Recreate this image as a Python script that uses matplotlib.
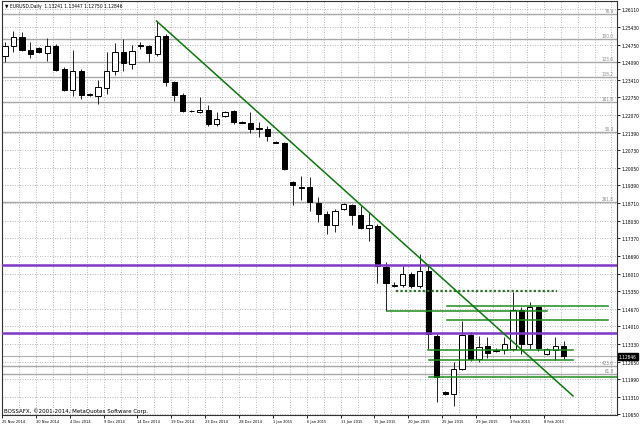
import matplotlib
matplotlib.use("Agg")
import matplotlib.pyplot as plt
from matplotlib.transforms import blended_transform_factory

plt.rcParams['font.family'] = ['Liberation Sans Narrow', 'DejaVu Sans']
plt.rcParams['font.stretch'] = 'condensed'

# EURUSD daily candles, 25 Nov 2014 .. 10 Feb 2015 (broker with Sunday bars)
opens = [1.2431, 1.2470, 1.2504, 1.2454, 1.2462, 1.2443, 1.2470, 1.2382, 1.2302, 1.2374,
         1.2285, 1.2279, 1.2309, 1.2374, 1.2447, 1.2401, 1.2474, 1.2470, 1.2439, 1.2508,
         1.2332, 1.2283, 1.2222, 1.2218, 1.2225, 1.2172, 1.2203, 1.2222, 1.2180, 1.2176,
         1.2157, 1.2153, 1.2105, 1.2099, 1.1951, 1.1931, 1.1931, 1.1870, 1.1828, 1.1786,
         1.1848, 1.1863, 1.1825, 1.1775, 1.1783, 1.1626, 1.1554, 1.1557, 1.1599, 1.1554,
         1.1611, 1.1363, 1.1149, 1.1141, 1.1237, 1.1367, 1.1275, 1.1325, 1.1311, 1.1309,
         1.1313, 1.1462, 1.1332, 1.1473, 1.1294, 1.1309, 1.13241]
highs = [1.2485, 1.2527, 1.2523, 1.2485, 1.2466, 1.2500, 1.2477, 1.2390, 1.2454, 1.2382,
         1.2290, 1.2340, 1.2447, 1.2481, 1.2496, 1.2474, 1.2485, 1.2474, 1.2565, 1.2516,
         1.2336, 1.2290, 1.2225, 1.2275, 1.2245, 1.2218, 1.2222, 1.2225, 1.2182, 1.2218,
         1.2180, 1.2164, 1.2107, 1.2103, 1.1954, 1.1973, 1.1970, 1.1893, 1.1840, 1.1848,
         1.1870, 1.1867, 1.1859, 1.1836, 1.1790, 1.1645, 1.1569, 1.1630, 1.1607, 1.1676,
         1.1638, 1.1370, 1.1153, 1.1264, 1.1420, 1.1378, 1.1363, 1.1359, 1.1317, 1.1359,
         1.1531, 1.1473, 1.1493, 1.1477, 1.1317, 1.1359, 1.13447]
lows = [1.2409, 1.2447, 1.2451, 1.2424, 1.2443, 1.2412, 1.2374, 1.2298, 1.2279, 1.2267,
        1.2279, 1.2248, 1.2286, 1.2359, 1.2374, 1.2382, 1.2458, 1.2409, 1.2431, 1.2317,
        1.2260, 1.2218, 1.2218, 1.2214, 1.2164, 1.2164, 1.2199, 1.2172, 1.2174, 1.2138,
        1.2122, 1.2107, 1.2099, 1.1996, 1.1863, 1.1882, 1.1840, 1.1798, 1.1752, 1.1760,
        1.1844, 1.1786, 1.1771, 1.1725, 1.1565, 1.1458, 1.1550, 1.1550, 1.1546, 1.1546,
        1.1313, 1.1111, 1.1138, 1.1096, 1.1233, 1.1267, 1.1264, 1.1279, 1.1302, 1.1294,
        1.1305, 1.1294, 1.1313, 1.1305, 1.1290, 1.1271, 1.12750]
closes = [1.2470, 1.2504, 1.2454, 1.2439, 1.2447, 1.2470, 1.2378, 1.2302, 1.2374, 1.2283,
          1.2281, 1.2313, 1.2374, 1.2447, 1.2405, 1.2451, 1.2470, 1.2443, 1.2508, 1.2332,
          1.2283, 1.2222, 1.2220, 1.2225, 1.2172, 1.2191, 1.2218, 1.2180, 1.2176, 1.2153,
          1.2153, 1.2126, 1.2101, 1.2000, 1.1939, 1.1929, 1.1874, 1.1828, 1.1786, 1.1840,
          1.1867, 1.1825, 1.1775, 1.1786, 1.1630, 1.1565, 1.1557, 1.1599, 1.1554, 1.1611,
          1.1370, 1.1206, 1.1143, 1.1237, 1.1367, 1.1275, 1.1321, 1.1298, 1.1307, 1.1332,
          1.1462, 1.1332, 1.1473, 1.1317, 1.1313, 1.1325, 1.12846]

date_labels = ["25 Nov 2014", "30 Nov 2014", "4 Dec 2014", "9 Dec 2014", "14 Dec 2014",
               "19 Dec 2014", "23 Dec 2014", "28 Dec 2014", "1 Jan 2015", "6 Jan 2015",
               "11 Jan 2015", "15 Jan 2015", "20 Jan 2015", "25 Jan 2015", "29 Jan 2015",
               "3 Feb 2015", "8 Feb 2015"]

price_ticks = [1.26110, 1.25430, 1.24750, 1.24090, 1.23410, 1.22750, 1.22070, 1.21390,
               1.20730, 1.20050, 1.19390, 1.18710, 1.18030, 1.17370, 1.16690, 1.16010,
               1.15350, 1.14670, 1.14010, 1.13330, 1.12650, 1.11990, 1.11310, 1.10650]

fib_prices = [1.2592, 1.2496, 1.2410, 1.2351, 1.2257, 1.2141, 1.1874, 1.1248, 1.1218]
fib_names = ["76.4", "100.0", "123.6", "138.2", "161.8", "50.0", "261.8", "423.6", "61.8"]

purple_prices = [1.1634, 1.1374]

green_prices = [1.1478, 1.1459, 1.1425, 1.1310, 1.1272, 1.1206]
green_start = [52.2, 45.1, 52.2, 50.0, 50.1, 50.1]
green_end = [71.2, 64.0, 71.2, 67.1, 67.1, 72.5]
dotted_price = 1.1535
dotted_range = [46.2, 65.2]

trend_x = [17.9, 67.1]
trend_y = [1.2565, 1.1134]

bid = 1.12846
header = "\u25bc EURUSD,Daily  1.13241 1.13447 1.12750 1.12846"
footer = "BOSSAFX, \u00a92001-2014, MetaQuotes Software Corp."

fig = plt.figure(figsize=(6.4, 4.27), dpi=100)
renderer = fig.canvas.get_renderer()


def fit_size(text, width_px, cap=6.0):
    # font size that makes text about as wide as in the terminal screenshot
    probe = fig.text(0, 0, text, fontsize=10)
    w = probe.get_window_extent(renderer).width
    probe.remove()
    return min(cap, 10 * width_px / w)


fs_date = fit_size(date_labels[0], 23)
fs_price = fit_size("1.22070", 18)
fs_head = fit_size(header, 117)
fs_foot = fit_size(footer, 144)
fs_fib = fit_size("100.0", 12)

ax = fig.add_axes([2 / 640, 11 / 427, 615 / 640, 414 / 427])
ax.set_xlim(-0.08, 72.3)
ax.set_ylim(1.10612, 1.26413)

# grid
n = len(opens)
label_pos = [4 * k - 0.35 for k in range(len(date_labels))]
minor_pos = [2 * k - 0.35 for k in range(1, 37)]
ax.set_xticks(label_pos)
ax.set_xticklabels(date_labels, ha='left', fontsize=fs_date)
ax.set_xticks(minor_pos, minor=True)
ax.set_yticks(price_ticks)
ax.set_yticklabels(["%.5f" % p for p in price_ticks], fontsize=fs_price)
ax.yaxis.tick_right()
ax.tick_params(axis='both', which='both', length=2, width=0.6, pad=1, colors='black')
ax.tick_params(axis='x', which='minor', length=0)
ax.grid(True, which='both', color='#a0a0a0', linestyle=(0, (1, 2)), linewidth=0.6, zorder=0)
ax.set_axisbelow(True)
for s in ax.spines.values():
    s.set_linewidth(0.8)
    s.set_color('#333333')

# candles
for i in range(n):
    o, h, l, c = opens[i], highs[i], lows[i], closes[i]
    ax.vlines(i, l, h, color='#222222', linewidth=0.7, zorder=2)
    fill = 'white' if c >= o else 'black'
    ax.bar(i, abs(c - o), bottom=min(o, c), width=0.62, color=fill,
           edgecolor='black', linewidth=0.7, zorder=3)

# fibo levels
for p, name in zip(fib_prices, fib_names):
    ax.axhline(p, color='#a8a8a8', linewidth=1.0, zorder=1)
    ax.text(71.9, p + 0.0004, name, fontsize=fs_fib, color='#8c8c8c',
            ha='right', va='bottom')

# bid line
ax.axhline(bid, color='#b0b0b0', linewidth=0.8, zorder=1)

# horizontal levels
for p in purple_prices:
    ax.axhline(p, color='#8038c8', linewidth=1.8, zorder=4)
for p, x0, x1 in zip(green_prices, green_start, green_end):
    ax.plot([x0, x1], [p, p], color='#1e8c1e', linewidth=1.1, zorder=4)
ax.plot(dotted_range, [dotted_price, dotted_price], color='#2f6f2f',
        linewidth=1.6, linestyle=(0, (1, 1)), zorder=4)

# trend line
ax.plot(trend_x, trend_y, color='#0a780a', linewidth=1.1, zorder=5)

# texts
ax.text(0.005, 0.996, header, transform=ax.transAxes, fontsize=fs_head,
        ha='left', va='top', color='black')
ax.text(0.003, 0.005, footer, transform=ax.transAxes, fontsize=fs_foot,
        ha='left', va='bottom', color='black')
tr = blended_transform_factory(ax.transAxes, ax.transData)
ax.text(1.003, bid, "%.5f" % bid, transform=tr, fontsize=fs_price, color='white',
        ha='left', va='center', zorder=10,
        bbox=dict(boxstyle='square,pad=0.2', fc='black', ec='black'))

fig.savefig("out.png", dpi=100, facecolor='white')
